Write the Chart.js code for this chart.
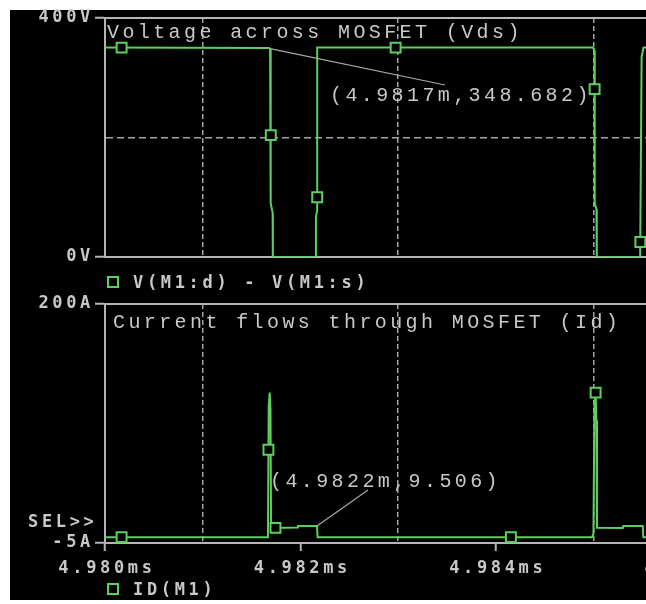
<!DOCTYPE html>
<html>
<head>
<meta charset="utf-8">
<script src="https://cdn.jsdelivr.net/npm/chart.js@4.4.1/dist/chart.umd.min.js"></script>
<style>
  html, body { margin: 0; padding: 0; width: 646px; height: 604px; overflow: hidden; background: #fff; }
  #scope { position: absolute; left: 10px; top: 10px; width: 636px; height: 590px; background: #000; }
  canvas { position: absolute; left: 0; }
  #vdsChart { top: 0; }
  #idChart { top: 290px; }
</style>
</head>
<body>
<div id="scope"></div>
<canvas id="vdsChart" width="760" height="290"></canvas>
<canvas id="idChart" width="760" height="314"></canvas>
<script>
// ---- time axis (ms) ----
const timeTicksMs = [4.980, 4.981, 4.982, 4.983, 4.984, 4.985, 4.986];
const timeTickLabels = ['4.980ms', '', '4.982ms', '', '4.984ms', '', '4.986ms'];
const X_MIN = 4.980, X_MAX = 4.9865;

// ---- drain-source voltage V(M1:d) - V(M1:s) ----
const vdsTicks = [0, 200, 400];
const vdsTickLabels = ['0V', '', '400V'];
const vdsTimeMs = [4.980000, 4.981680, 4.981690, 4.981696, 4.981716, 4.981718,
                   4.982158, 4.982159, 4.982171, 4.982172,
                   4.984990, 4.985005, 4.985010, 4.985013, 4.985031, 4.985034,
                   4.985478, 4.985493, 4.985512, 4.986500];
const vdsVolts  = [350.5, 350.0, 348.682, 90, 74, 0,
                   0, 67, 78, 350.5,
                   350.5, 348, 345, 90, 80, 0,
                   0, 335, 350.5, 350.5];
const vdsMarkTimeMs = [4.980170, 4.981697, 4.982172, 4.982975, 4.985012, 4.985480];
const vdsMarkVolts  = [350.5, 204, 100, 350.5, 281, 25];
const vdsNote = { t: 4.98169, v: 348.682 };

// ---- drain current ID(M1) ----
const idTicks = [-5, 200];
const idTickLabels = ['-5A', '200A'];
const idTimeMs = [4.980000, 4.981660, 4.981668, 4.981676, 4.981686, 4.981694, 4.981700,
                  4.981710, 4.981970, 4.981975, 4.982170, 4.982176,
                  4.984985, 4.985000, 4.985010, 4.985022, 4.985030, 4.985036,
                  4.985300, 4.985305, 4.985505, 4.985510, 4.986500];
const idAmps   = [0, 0, 2, 112, 124, 110, 9,
                  7.8, 8.2, 9.5, 9.506, 0,
                  0, 3, 112, 125, 100, 8,
                  7.9, 9.6, 9.6, 0, 0];
const idMarkTimeMs = [4.980170, 4.981673, 4.981745, 4.984155, 4.985022];
const idMarkAmps   = [0, 75, 8, 0, 124];
const idNote = { t: 4.98217, v: 9.506 };

// ---- look ----
const FRAME = '#b4b4b4', GRID = '#a4a4a4', TEXT = '#c8c8c8', TRACE = '#5dcf5d', LEADER = '#a8a8a8';
const CLEAR = 'rgba(0,0,0,0)';
const BOLD = { family: '"DejaVu Sans Mono", monospace', size: 17, weight: 'bold' };
const BOLD_CSS = 'bold 17px "DejaVu Sans Mono", monospace';
const BOLD_PITCH = 13.9;
const THIN_CSS = '20px "Liberation Mono", monospace';
const THIN_PITCH = 15.4;
const PLOT_LEFT = 105;

const zip = (xs, ys) => xs.map((x, i) => ({ x, y: ys[i] }));
const noteText = n => '(' + n.t.toFixed(4) + 'm,' + n.v + ')';

function spaced(ctx, text, x, y, pitch) {
  for (let i = 0; i < text.length; i++) ctx.fillText(text[i], x + i * pitch, y);
}

// frame top edge, caption, cursor notes, trace legend
const scopeDecor = {
  id: 'scopeDecor',
  beforeDraw(chart) { chart.ctx.letterSpacing = (BOLD_PITCH - 10.24).toFixed(2) + 'px'; },
  afterDraw(chart, args, o) {
    const { ctx, chartArea: a, scales } = chart;
    ctx.save();
    ctx.letterSpacing = '0px';
    ctx.strokeStyle = FRAME; ctx.lineWidth = 2;
    ctx.beginPath(); ctx.moveTo(a.left, a.top); ctx.lineTo(a.right, a.top); ctx.stroke();

    ctx.fillStyle = TEXT; ctx.textAlign = 'left'; ctx.textBaseline = 'alphabetic';
    ctx.font = THIN_CSS;
    spaced(ctx, o.title.text, o.title.x, o.title.y, THIN_PITCH);

    const n = o.note;
    const px = scales.x.getPixelForValue(n.at.t), py = scales.y.getPixelForValue(n.at.v);
    ctx.strokeStyle = LEADER; ctx.lineWidth = 1.2;
    ctx.beginPath(); ctx.moveTo(px, py); ctx.lineTo(n.lx, n.ly); ctx.stroke();
    spaced(ctx, noteText(n.at), n.x, n.y, THIN_PITCH);

    ctx.font = BOLD_CSS;
    const g = o.legend;
    ctx.strokeStyle = TRACE; ctx.lineWidth = 2;
    ctx.strokeRect(g.mx - 5, g.my - 5, 10, 10);
    spaced(ctx, g.text, g.x, g.y, BOLD_PITCH);
    if (o.sel) spaced(ctx, o.sel.text, o.sel.x, o.sel.y, BOLD_PITCH);
    ctx.restore();
  }
};

function timeAxis(showLabels, height) {
  return {
    type: 'linear', position: 'bottom', min: X_MIN, max: X_MAX, bounds: 'data',
    afterBuildTicks: s => { s.ticks = timeTicksMs.map(v => ({ value: v })); },
    afterFit: s => { s.height = height; },
    ticks: { display: showLabels, autoSkip: false, maxRotation: 0, padding: 7, labelOffset: 2,
             color: TEXT, font: BOLD, callback: (v, i) => timeTickLabels[i] },
    grid: { drawTicks: showLabels, tickLength: 8, tickWidth: 2, lineWidth: 1.5,
            color: c => timeTickLabels[c.index] ? CLEAR : GRID,
            tickColor: c => timeTickLabels[c.index] ? FRAME : CLEAR },
    border: { display: true, color: FRAME, width: 2, dash: [5, 3] }
  };
}

function valueAxis(min, max, ticks, labels) {
  return {
    type: 'linear', position: 'left', min, max,
    afterBuildTicks: s => { s.ticks = ticks.map(v => ({ value: v })); },
    afterFit: s => { s.width = PLOT_LEFT; },
    ticks: { autoSkip: false, padding: 1, color: TEXT, font: BOLD, callback: (v, i) => labels[i] },
    grid: { tickLength: 10, tickWidth: 2, lineWidth: 1.5,
            color: c => labels[c.index] ? CLEAR : GRID,
            tickColor: c => labels[c.index] ? FRAME : CLEAR },
    border: { display: true, color: FRAME, width: 2, dash: [7, 4] }
  };
}

function traceSets(xs, ys, mx, my) {
  return [
    { data: zip(xs, ys), borderColor: TRACE, borderWidth: 2, pointRadius: 0, tension: 0, fill: false, order: 2 },
    { data: zip(mx, my), showLine: false, pointStyle: 'rect', pointRadius: 7, pointBorderWidth: 2,
      pointBorderColor: TRACE, pointBackgroundColor: '#000', order: 1 }
  ];
}

new Chart(document.getElementById('vdsChart'), {
  type: 'line',
  data: { datasets: traceSets(vdsTimeMs, vdsVolts, vdsMarkTimeMs, vdsMarkVolts) },
  options: {
    responsive: false, animation: false, events: [],
    layout: { padding: { top: 18, bottom: 33, left: 0, right: 20 } },
    scales: { x: timeAxis(false, 0), y: valueAxis(0, 400, vdsTicks, vdsTickLabels) },
    plugins: {
      legend: { display: false }, tooltip: { enabled: false },
      scopeDecor: {
        title: { text: 'Voltage across MOSFET (Vds)', x: 107, y: 38 },
        note: { at: vdsNote, x: 330, y: 101, lx: 445, ly: 85 },
        legend: { text: 'V(M1:d) - V(M1:s)', mx: 113, my: 282, x: 133, y: 288 }
      }
    }
  },
  plugins: [scopeDecor]
});

new Chart(document.getElementById('idChart'), {
  type: 'line',
  data: { datasets: traceSets(idTimeMs, idAmps, idMarkTimeMs, idMarkAmps) },
  options: {
    responsive: false, animation: false, events: [],
    layout: { padding: { top: 14, bottom: 0, left: 0, right: 20 } },
    scales: { x: timeAxis(true, 61), y: valueAxis(-5, 200, idTicks, idTickLabels) },
    plugins: {
      legend: { display: false }, tooltip: { enabled: false },
      scopeDecor: {
        title: { text: 'Current flows through MOSFET (Id)', x: 113, y: 38 },
        note: { at: idNote, x: 270, y: 197, lx: 368, ly: 200 },
        legend: { text: 'ID(M1)', mx: 113, my: 299, x: 133, y: 305 },
        sel: { text: 'SEL>>', x: 28, y: 237 }
      }
    }
  },
  plugins: [scopeDecor]
});
</script>
</body>
</html>
